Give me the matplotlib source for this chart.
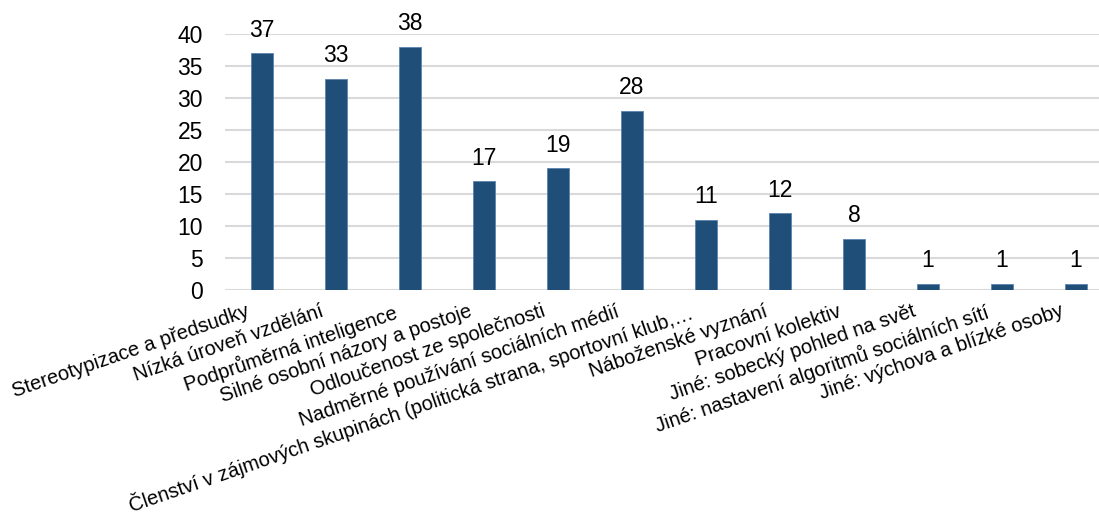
import numpy as np
import matplotlib
matplotlib.use('Agg')
from matplotlib import pyplot as plt
from matplotlib.transforms import ScaledTranslation

## DATA

categories = [
    'Stereotypizace a předsudky',
    'Nízká úroveň vzdělání',
    'Podprůměrná inteligence',
    'Silné osobní názory a postoje',
    'Odloučenost ze společnosti',
    'Nadměrné používání sociálních médií',
    'Členství v zájmových skupinách (politická strana, sportovní klub,…',
    'Náboženské vyznání',
    'Pracovní kolektiv',
    'Jiné: sobecký pohled na svět',
    'Jiné: nastavení algoritmů sociálních sítí',
    'Jiné: výchova a blízké osoby',
]
counts = [37, 33, 38, 17, 19, 28, 11, 12, 8, 1, 1, 1]
yticks = [0, 5, 10, 15, 20, 25, 30, 35, 40]

## PLOT

plt.rcParams['font.family'] = ['Liberation Sans', 'DejaVu Sans']

fig = plt.figure(figsize=(10.99, 5.16), dpi=100)
# plot area runs a bit past the right edge, like the source image
ax = fig.add_axes([225 / 1099, (516 - 290) / 516, 888 / 1099, 256 / 516])

x = np.arange(len(categories))
ax.bar(x, counts, width=0.31, color='#1F4E79', edgecolor='#5B84AE', linewidth=0.6, zorder=3)

for xi, v in zip(x, counts):
    ax.annotate(str(v), (xi, v), xytext=(0, 12), textcoords='offset points',
                ha='center', va='baseline', fontsize=16.5, color='black', zorder=4)

ax.set_xlim(-0.5, len(categories) - 0.5)
ax.set_ylim(0, 40)
ax.set_yticks(yticks)
ax.yaxis.grid(True, color='#D9D9D9', linewidth=1.5, zorder=0)
ax.set_axisbelow(True)
for s in ax.spines.values():
    s.set_visible(False)
ax.tick_params(axis='y', length=0, pad=16, labelsize=16.5)
ax.tick_params(axis='x', length=0, pad=8.5)

ax.set_xticks(x)
ax.set_xticklabels(categories, rotation=19, ha='right', rotation_mode='default', fontsize=14.5)
# Excel puts the label ends a little left of the bar centres
shift = ScaledTranslation(-10 / 100, 0, fig.dpi_scale_trans)
for lbl in ax.get_xticklabels():
    lbl.set_transform(lbl.get_transform() + shift)

fig.savefig('out.png', dpi=100)
